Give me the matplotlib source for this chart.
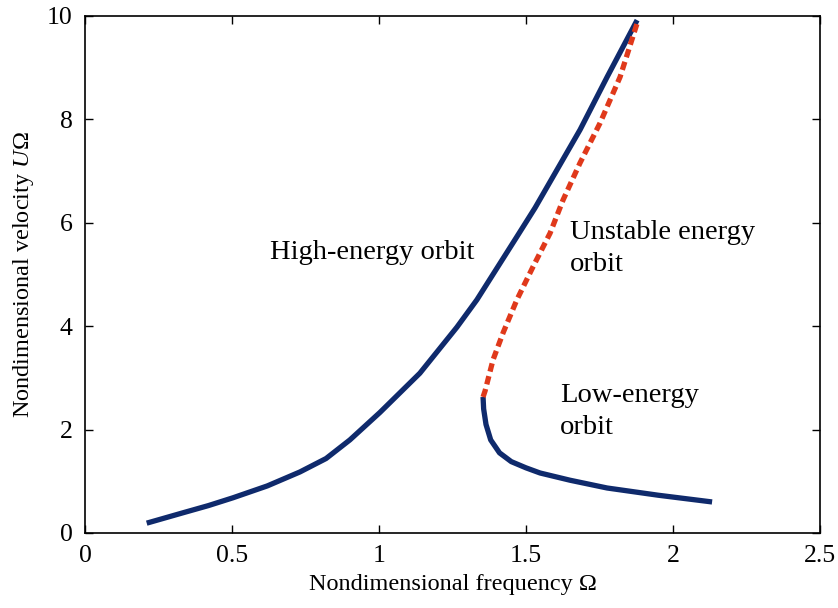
import matplotlib
matplotlib.use("Agg")
import matplotlib.pyplot as plt

plt.rcParams['font.family'] = ['Liberation Serif', 'DejaVu Serif']
plt.rcParams['mathtext.fontset'] = 'custom'
plt.rcParams['mathtext.rm'] = 'Liberation Serif'
plt.rcParams['mathtext.it'] = 'Liberation Serif:italic'

# high-energy orbit (stable, upper branch)
high_x = [0.21, 0.333, 0.42, 0.503, 0.62, 0.731, 0.82, 0.901, 1.003, 1.139,
          1.265, 1.333, 1.469, 1.531, 1.605, 1.684, 1.776, 1.878]
high_y = [0.19, 0.39, 0.53, 0.68, 0.91, 1.18, 1.44, 1.80, 2.33, 3.09,
          3.98, 4.51, 5.73, 6.29, 7.02, 7.80, 8.82, 9.92]

# unstable orbit (dashed)
unst_x = [1.354, 1.361, 1.388, 1.422, 1.469, 1.524, 1.582, 1.626, 1.684, 1.752,
          1.820, 1.878]
unst_y = [2.63, 2.75, 3.35, 3.87, 4.51, 5.15, 5.80, 6.44, 7.16, 7.93, 8.82, 9.86]

# low-energy orbit
low_x = [1.354, 1.356, 1.364, 1.38, 1.41, 1.45, 1.50, 1.548, 1.65, 1.776, 1.95, 2.133]
low_y = [2.63, 2.40, 2.10, 1.80, 1.55, 1.38, 1.26, 1.16, 1.02, 0.87, 0.73, 0.60]

navy = '#0f2a6c'
red = '#e0391b'

fig = plt.figure(figsize=(8.38, 6.08), dpi=100)
ax = fig.add_axes([0.1014, 0.1234, 0.8771, 0.8503])

ax.plot(high_x, high_y, color=navy, lw=3.8, solid_capstyle='butt',
        solid_joinstyle='round')
ax.plot(low_x, low_y, color=navy, lw=3.8, solid_capstyle='butt',
        solid_joinstyle='round')
ax.plot(unst_x, unst_y, color=red, lw=3.8, linestyle=(0, (1.6, 0.9)))

ax.set_xlim(0, 2.5)
ax.set_ylim(0, 10)
ax.set_xticks([0, 0.5, 1, 1.5, 2, 2.5])
ax.set_xticklabels(['0', '0.5', '1', '1.5', '2', '2.5'])
ax.set_yticks([0, 2, 4, 6, 8, 10])
ax.tick_params(direction='in', top=True, right=True, length=6, width=1,
               labelsize=18.5, pad=9)
for s in ax.spines.values():
    s.set_linewidth(1.2)

ax.set_xlabel('Nondimensional frequency Ω', fontsize=17.5, labelpad=5)
ax.set_ylabel('Nondimensional velocity $U$Ω', fontsize=17.5, labelpad=8)

ax.text(0.63, 5.43, 'High-energy orbit', fontsize=20.5, va='center', ha='left')
ax.text(1.65, 5.50, 'Unstable energy\norbit', fontsize=20.5, va='center', ha='left',
        linespacing=1.35)
ax.text(1.615, 2.35, 'Low-energy\norbit', fontsize=20.5, va='center', ha='left',
        linespacing=1.35)

fig.savefig('out.png', dpi=100)
